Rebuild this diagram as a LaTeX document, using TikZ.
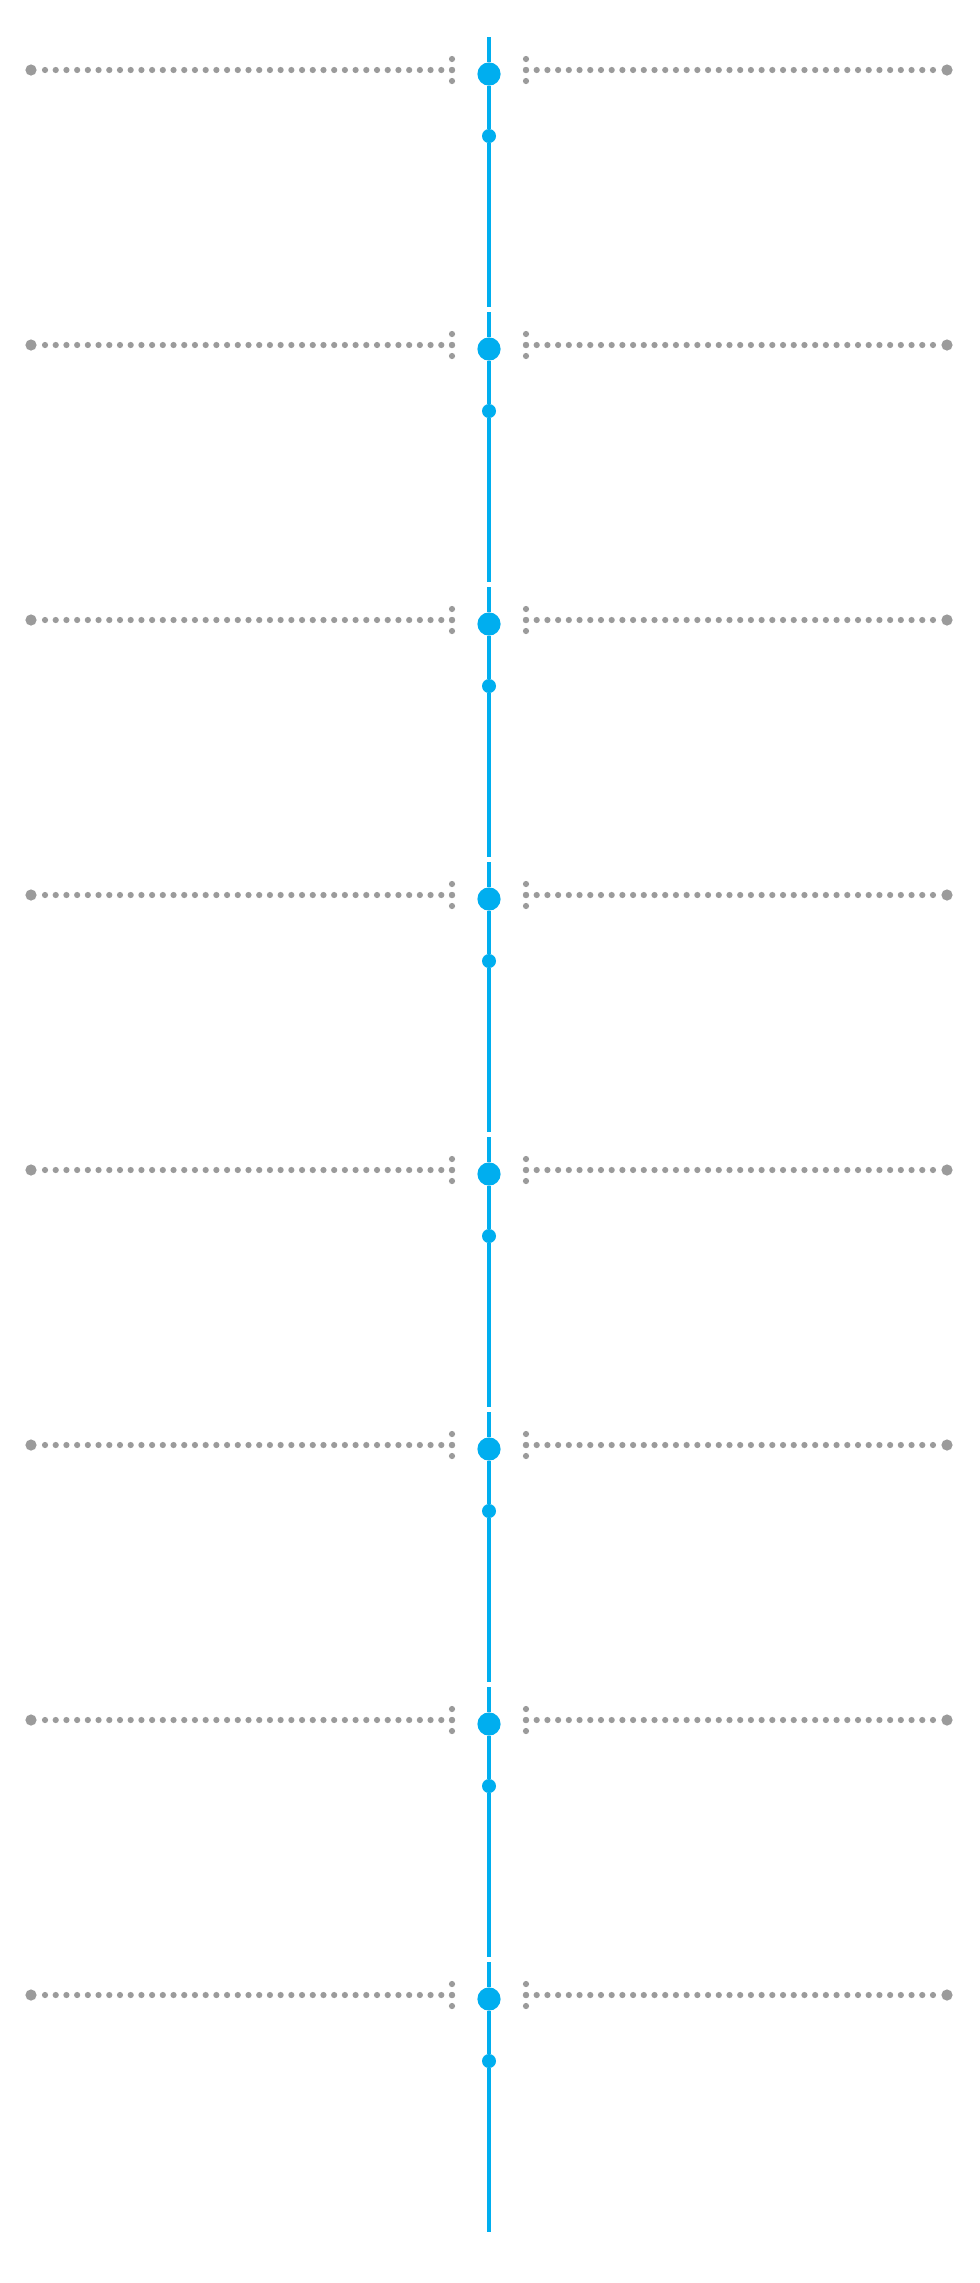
\documentclass[tikz,border=0pt]{standalone}
\definecolor{tlblue}{RGB}{0,174,239}
\definecolor{tlgray}{RGB}{155,155,155}
\begin{document}
\begin{tikzpicture}[
    x=0.5pt, y=-0.5pt,
    spine/.style={line width=2.4pt, tlblue},
    bigdot/.style={circle, fill=tlblue, inner sep=0pt, minimum size=11.6pt},
    smalldot/.style={circle, fill=tlblue, inner sep=0pt, minimum size=7pt},
    enddot/.style={circle, fill=tlgray, inner sep=0pt, minimum size=5.6pt},
    dots/.style={line width=3.1pt, tlgray, line cap=round, dash pattern=on 0pt off 5.355pt},
    tick/.style={line width=3.1pt, tlgray, line cap=round, dash pattern=on 0pt off 5.5pt}
  ]
    \fill[white] (0,0) rectangle (980,2283);
    \useasboundingbox (0,0) rectangle (980,2283);
    \foreach \i in {1,...,8}{
      \pgfmathsetmacro{\y}{70+275*(\i-1)}
      \pgfmathsetmacro{\e}{\i<8 ? \y+237 : 2232}
      \coordinate (top\i) at (489,\y-33);
      \coordinate (bot\i) at (489,\e);
      \node[bigdot] (big\i) at (489,\y+4) {};
      \node[smalldot] (small\i) at (489,\y+66) {};
      \draw[spine] (top\i) -- (big\i) -- (small\i) -- (bot\i);
      \node[enddot] (l\i) at (31,\y) {};
      \node[enddot] (r\i) at (947,\y) {};
      \coordinate (lt\i) at (452,\y);
      \coordinate (rt\i) at (526,\y);
      \coordinate (la\i) at (43,\y);
      \coordinate (ra\i) at (935,\y);
      \draw[dots] (lt\i) -- (la\i);
      \draw[dots] (rt\i) -- (ra\i);
      \coordinate (lu\i) at (452,\y-11);
      \coordinate (ld\i) at (452,\y+12);
      \coordinate (ru\i) at (526,\y-11);
      \coordinate (rd\i) at (526,\y+12);
      \draw[tick] (lu\i) -- (ld\i);
      \draw[tick] (ru\i) -- (rd\i);
    }
  \end{tikzpicture}
\end{document}
